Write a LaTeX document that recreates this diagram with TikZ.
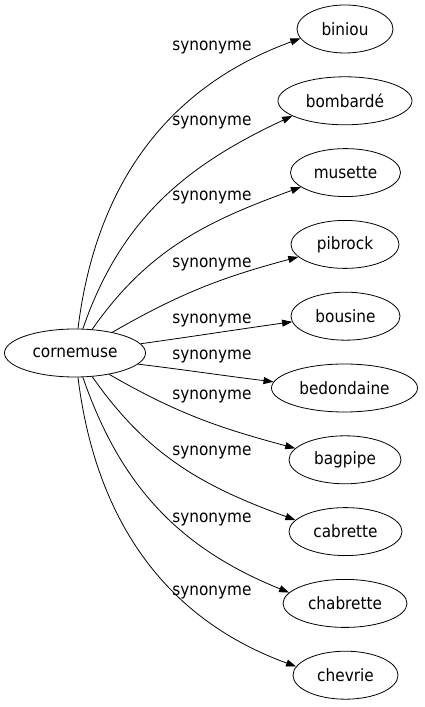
\documentclass[tikz,border=0pt]{standalone}
\usepackage{fontspec}
\setmainfont{DejaVu Sans Condensed}
\usetikzlibrary{shapes.geometric,arrows.meta}
\begin{document}
\begin{tikzpicture}[x=1pt,y=1pt,
  every node/.style={font=\fontsize{17}{20}\selectfont},
  word/.style={draw, ellipse, minimum height=48pt, inner sep=0pt, line width=0.8pt},
  rel/.style={-{Triangle[length=10pt,width=7pt]}, line width=0.8pt},
  lbl/.style={inner sep=0pt}]
\useasboundingbox (0,0) rectangle (425,707);
\node[word, minimum width=141pt] (c) at (75,354) {cornemuse};
\node[word, minimum width=96pt]  (n0) at (345,678) {biniou};
\node[word, minimum width=134pt] (n1) at (345,606.2) {bombardé};
\node[word, minimum width=110pt] (n2) at (345.5,534.4) {musette};
\node[word, minimum width=108pt] (n3) at (345,462.6) {pibrock};
\node[word, minimum width=109pt] (n4) at (345.5,390.8) {bousine};
\node[word, minimum width=146pt] (n5) at (344.5,319) {bedondaine};
\node[word, minimum width=112pt] (n6) at (345,247.2) {bagpipe};
\node[word, minimum width=113pt] (n7) at (345.5,175.4) {cabrette};
\node[word, minimum width=124pt] (n8) at (345,103.6) {chabrette};
\node[word, minimum width=105pt] (n9) at (345.5,31.8) {chevrie};
\draw[rel] (c.83)  to[out=83,in=200]  (n0.192);
\draw[rel] (c.72)  to[out=71,in=205]  (n1.196);
\draw[rel] (c.54)  to[out=55,in=200]  (n2.198);
\draw[rel] (c.29)  to[out=30,in=195]  (n3.195);
\draw[rel] (c.8)   to[out=8,in=188]   (n4.186);
\draw[rel] (c.-10) to[out=-7,in=173]  (n5.175);
\draw[rel] (c.-32) to[out=-30,in=165] (n6.167);
\draw[rel] (c.-54) to[out=-55,in=160] (n7.167);
\draw[rel] (c.-72) to[out=-71,in=158] (n8.169);
\draw[rel] (c.-83) to[out=-83,in=160] (n9.170);
\node[lbl] (s0) at (212,659) {synonyme};
\node[lbl] (s1) at (212,584) {synonyme};
\node[lbl] (s2) at (212,509) {synonyme};
\node[lbl] (s3) at (212,442) {synonyme};
\node[lbl] (s4) at (212,386) {synonyme};
\node[lbl] (s5) at (212,350) {synonyme};
\node[lbl] (s6) at (212,310) {synonyme};
\node[lbl] (s7) at (212,254) {synonyme};
\node[lbl] (s8) at (212,187) {synonyme};
\node[lbl] (s9) at (212,114) {synonyme};
\end{tikzpicture}
\end{document}
